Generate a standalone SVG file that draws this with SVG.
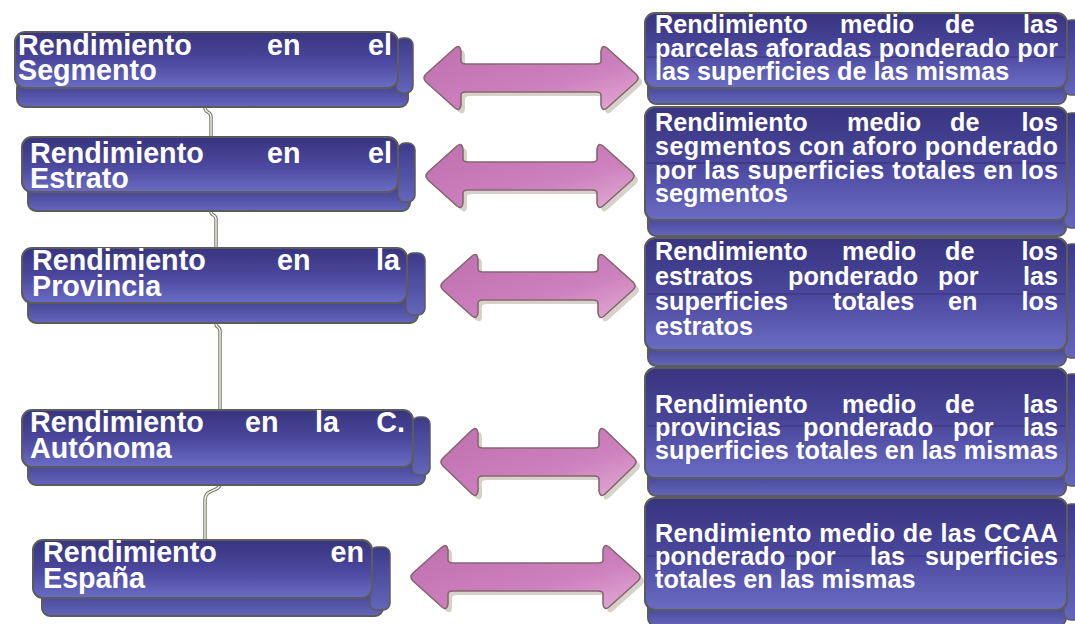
<svg xmlns="http://www.w3.org/2000/svg" width="1075" height="624" viewBox="0 0 1075 624">
<defs>
<linearGradient id="boxg" x1="0" y1="0" x2="0" y2="1">
<stop offset="0" stop-color="#38347f"/>
<stop offset="0.5" stop-color="#4a479c"/>
<stop offset="1" stop-color="#6a6cc4"/>
</linearGradient>
<linearGradient id="slabg" x1="0" y1="0" x2="0" y2="1">
<stop offset="0" stop-color="#3d3a8a"/>
<stop offset="1" stop-color="#6466bb"/>
</linearGradient>
<linearGradient id="arrg" x1="0" y1="0" x2="1" y2="1">
<stop offset="0" stop-color="#c070b0"/>
<stop offset="0.6" stop-color="#cc80bc"/>
<stop offset="1" stop-color="#e2acd6"/>
</linearGradient>
<path id="a1" d="M426,74 L455,48 Q460,44 461,51 L461,61 Q461,64 466,64 L596,64 Q601,64 601,61 L601,51 Q602,44 607,48 L636,74 Q640,78 636,82 L607,108 Q602,112 601,105 L601,95 Q601,92 596,92 L466,92 Q461,92 461,95 L461,105 Q460,112 455,108 L426,82 Q422,78 426,74 Z"/>
<path id="a2" d="M428,172 L457,146 Q462,142 463,149 L463,159 Q463,162 468,162 L592,162 Q597,162 597,159 L597,149 Q598,142 603,146 L632,172 Q636,176 632,180 L603,206 Q598,210 597,203 L597,193 Q597,190 592,190 L468,190 Q463,190 463,193 L463,203 Q462,210 457,206 L428,180 Q424,176 428,172 Z"/>
<path id="a3" d="M443,282 L472,256 Q477,252 478,259 L478,269 Q478,272 483,272 L593,272 Q598,272 598,269 L598,259 Q599,252 604,256 L633,282 Q637,286 633,290 L604,316 Q599,320 598,313 L598,303 Q598,300 593,300 L483,300 Q478,300 478,303 L478,313 Q477,320 472,316 L443,290 Q439,286 443,282 Z"/>
<path id="a4" d="M443,458 L472,430 Q477,426 478,433 L478,445 Q478,448 483,448 L594,448 Q599,448 599,445 L599,433 Q600,426 605,430 L634,458 Q638,462 634,466 L605,494 Q600,498 599,491 L599,479 Q599,476 594,476 L483,476 Q478,476 478,479 L478,491 Q477,498 472,494 L443,466 Q439,462 443,458 Z"/>
<path id="a5" d="M413,573 L442,547 Q447,543 448,550 L448,560 Q448,563 453,563 L598,563 Q603,563 603,560 L603,550 Q604,543 609,547 L638,573 Q642,577 638,581 L609,607 Q604,611 603,604 L603,594 Q603,591 598,591 L453,591 Q448,591 448,594 L448,604 Q447,611 442,607 L413,581 Q409,577 413,573 Z"/>
</defs>
<style>
.main{fill:url(#boxg);stroke:#5c5c5c;stroke-width:2}
.tab{fill:url(#slabg);stroke:#5c5c5c;stroke-width:1.5}
.slab{fill:url(#slabg);stroke:#5c5c5c;stroke-width:2}
.gl{stroke:#2c2868;stroke-width:1;opacity:0.7}
.arr{fill:url(#arrg);stroke:#86666e;stroke-width:1.6}
.sh{fill:#d6d2ca}
.co{fill:none;stroke:#7c7c68;stroke-width:3.5}
.ci{fill:none;stroke:#f2f2e6;stroke-width:1.4}
text{font-family:"Liberation Sans",Arial,sans-serif;font-weight:bold;fill:#ffffff}
.lt{font-size:28.7px}
.rt{font-size:25.2px}
.e{text-anchor:end}
</style>
<rect width="1075" height="624" fill="#ffffff"/>

<g id="connectors">
<path class="co" d="M205,88 V108 C205,113 211,111 211,117 V137"/>
<path class="ci" d="M205,88 V108 C205,113 211,111 211,117 V137"/>
<path class="co" d="M211,205 V212 C211,216 216,214 216,219 V248"/>
<path class="ci" d="M211,205 V212 C211,216 216,214 216,219 V248"/>
<path class="co" d="M216,318 V324 C216,328 220,326 220,331 V410"/>
<path class="ci" d="M216,318 V324 C216,328 220,326 220,331 V410"/>
<path class="co" d="M220,480 V484 C220,492 205,488 205,500 V540"/>
<path class="ci" d="M220,480 V484 C220,492 205,488 205,500 V540"/>
</g>

<g id="arrows">
<use href="#a1" class="sh" transform="translate(4,4)"/><use href="#a1" class="arr"/>
<use href="#a2" class="sh" transform="translate(4,4)"/><use href="#a2" class="arr"/>
<use href="#a3" class="sh" transform="translate(4,4)"/><use href="#a3" class="arr"/>
<use href="#a4" class="sh" transform="translate(4,4)"/><use href="#a4" class="arr"/>
<use href="#a5" class="sh" transform="translate(4,4)"/><use href="#a5" class="arr"/>
</g>

<g id="left-segmento">
<rect class="slab" x="17" y="80" width="391" height="27" rx="8"/>
<rect class="tab" x="396" y="38" width="17" height="55" rx="7"/>
<rect class="main" x="15" y="32" width="383" height="56" rx="10"/>
<text class="lt" x="18" y="55">Rendimiento</text>
<text class="lt" x="267" y="55">en</text>
<text class="lt e" x="392" y="55">el</text>
<text class="lt" x="18" y="80">Segmento</text>
</g>

<g id="left-estrato">
<rect class="slab" x="28" y="184" width="382" height="27" rx="8"/>
<rect class="tab" x="398" y="143" width="17" height="59" rx="7"/>
<rect class="main" x="22" y="137" width="376" height="55" rx="10"/>
<text class="lt" x="30" y="163">Rendimiento</text>
<text class="lt" x="267" y="163">en</text>
<text class="lt e" x="392" y="163">el</text>
<text class="lt" x="30" y="188">Estrato</text>
</g>

<g id="left-provincia">
<rect class="slab" x="28" y="295" width="390" height="28" rx="8"/>
<rect class="tab" x="406" y="253" width="19" height="62" rx="7"/>
<rect class="main" x="22" y="248" width="385" height="55" rx="10"/>
<text class="lt" x="32" y="270">Rendimiento</text>
<text class="lt" x="277" y="270">en</text>
<text class="lt e" x="400" y="270">la</text>
<text class="lt" x="32" y="296">Provincia</text>
</g>

<g id="left-autonoma">
<rect class="slab" x="28" y="458" width="397" height="27" rx="8"/>
<rect class="tab" x="412" y="417" width="18" height="58" rx="7"/>
<rect class="main" x="22" y="410" width="391" height="57" rx="10"/>
<text class="lt" x="30" y="432">Rendimiento</text>
<text class="lt" x="245" y="432">en</text>
<text class="lt" x="315" y="432">la</text>
<text class="lt e" x="405" y="432">C.</text>
<text class="lt" x="30" y="458">Autónoma</text>
</g>

<g id="left-espana">
<rect class="slab" x="42" y="588" width="341" height="28" rx="8"/>
<rect class="tab" x="370" y="547" width="20" height="63" rx="7"/>
<rect class="main" x="33" y="540" width="339" height="58" rx="10"/>
<text class="lt" x="43" y="562">Rendimiento</text>
<text class="lt e" x="364" y="562">en</text>
<text class="lt" x="43" y="588">España</text>
</g>

<g id="right-1">
<rect class="slab" x="648" y="78" width="418" height="26" rx="8"/>
<rect class="tab" x="1064" y="20" width="20" height="75" rx="7"/>
<rect class="main" x="645" y="13" width="422" height="75" rx="10"/>
<line class="gl" x1="647" y1="57" x2="1065" y2="57"/>
<text class="rt" x="655" y="33">Rendimiento</text>
<text class="rt" x="840" y="33">medio</text>
<text class="rt" x="945" y="33">de</text>
<text class="rt e" x="1058" y="33">las</text>
<text class="rt" x="655" y="57" textLength="403" lengthAdjust="spacing">parcelas aforadas ponderado por</text>
<text class="rt" x="655" y="80">las superficies de las mismas</text>
</g>

<g id="right-2">
<rect class="slab" x="648" y="210" width="418" height="26" rx="8"/>
<rect class="tab" x="1064" y="113" width="20" height="115" rx="7"/>
<rect class="main" x="645" y="107" width="422" height="113" rx="10"/>
<line class="gl" x1="647" y1="163" x2="1065" y2="163"/>
<text class="rt" x="655" y="131">Rendimiento</text>
<text class="rt" x="847" y="131">medio</text>
<text class="rt" x="950" y="131">de</text>
<text class="rt e" x="1058" y="131">los</text>
<text class="rt" x="655" y="155" textLength="403" lengthAdjust="spacing">segmentos con aforo ponderado</text>
<text class="rt" x="655" y="179" textLength="403" lengthAdjust="spacing">por las superficies totales en los</text>
<text class="rt" x="655" y="202">segmentos</text>
</g>

<g id="right-3">
<rect class="slab" x="648" y="340" width="418" height="26" rx="8"/>
<rect class="tab" x="1064" y="244" width="20" height="114" rx="7"/>
<rect class="main" x="645" y="238" width="422" height="112" rx="10"/>
<line class="gl" x1="647" y1="294" x2="1065" y2="294"/>
<text class="rt" x="655" y="260">Rendimiento</text>
<text class="rt" x="842" y="260">medio</text>
<text class="rt" x="945" y="260">de</text>
<text class="rt e" x="1058" y="260">los</text>
<text class="rt" x="655" y="285">estratos</text>
<text class="rt" x="788" y="285">ponderado</text>
<text class="rt" x="938" y="285">por</text>
<text class="rt e" x="1058" y="285">las</text>
<text class="rt" x="655" y="310">superficies</text>
<text class="rt" x="833" y="310">totales</text>
<text class="rt" x="948" y="310">en</text>
<text class="rt e" x="1058" y="310">los</text>
<text class="rt" x="655" y="335">estratos</text>
</g>

<g id="right-4">
<rect class="slab" x="648" y="468" width="418" height="28" rx="8"/>
<rect class="tab" x="1064" y="374" width="20" height="112" rx="7"/>
<rect class="main" x="645" y="368" width="422" height="110" rx="10"/>
<line class="gl" x1="647" y1="426" x2="1065" y2="426"/>
<text class="rt" x="655" y="413">Rendimiento</text>
<text class="rt" x="842" y="413">medio</text>
<text class="rt" x="945" y="413">de</text>
<text class="rt e" x="1058" y="413">las</text>
<text class="rt" x="655" y="436">provincias</text>
<text class="rt" x="803" y="436">ponderado</text>
<text class="rt" x="953" y="436">por</text>
<text class="rt e" x="1058" y="436">las</text>
<text class="rt" x="655" y="459" textLength="403" lengthAdjust="spacing">superficies totales en las mismas</text>
</g>

<g id="right-5">
<rect class="slab" x="648" y="600" width="418" height="26" rx="8"/>
<rect class="tab" x="1064" y="504" width="20" height="116" rx="7"/>
<rect class="main" x="645" y="498" width="422" height="112" rx="10"/>
<line class="gl" x1="647" y1="556" x2="1065" y2="556"/>
<text class="rt" x="655" y="542" textLength="403" lengthAdjust="spacing">Rendimiento medio de las CCAA</text>
<text class="rt" x="655" y="565">ponderado</text>
<text class="rt" x="795" y="565">por</text>
<text class="rt" x="870" y="565">las</text>
<text class="rt e" x="1058" y="565">superficies</text>
<text class="rt" x="655" y="588">totales en las mismas</text>
</g>
</svg>
